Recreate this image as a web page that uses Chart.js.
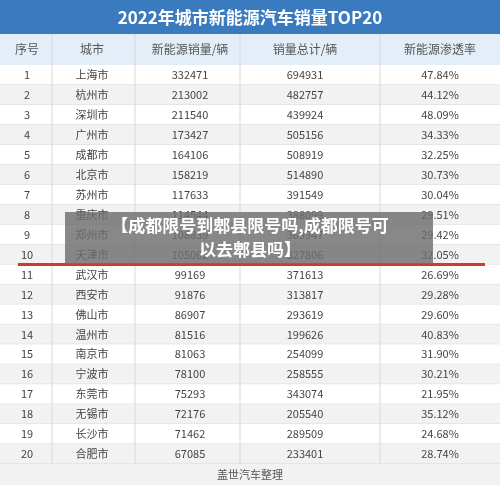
<!DOCTYPE html><html><head><meta charset="utf-8">
<script src="https://cdn.jsdelivr.net/npm/chart.js@4"></script>
<style>body{margin:0;background:#fff}#w{width:500px;height:485px}</style></head><body><div id="w"><canvas id="c"></canvas></div>
<script>
const title='2022年城市新能源汽车销量TOP20';
const headers=['序号','城市','新能源销量/辆','销量总计/辆','新能源渗透率'];
const ranks=['1','2','3','4','5','6','7','8','9','10','11','12','13','14','15','16','17','18','19','20'];
const cities=['上海市','杭州市','深圳市','广州市','成都市','北京市','苏州市','重庆市','郑州市','天津市','武汉市','西安市','佛山市','温州市','南京市','宁波市','东莞市','无锡市','长沙市','合肥市'];
const nev=[332471,213002,211540,173427,164106,158219,117633,114544,108839,105062,99169,91876,86907,81516,81063,78100,75293,72176,71462,67085];
const total=[694931,482757,439924,505156,508919,514890,391549,388099,369947,327806,371613,313817,293619,199626,254099,258555,343074,205540,289509,233401];
const rate=['47.84%','44.12%','48.09%','34.33%','32.25%','30.73%','30.04%','29.51%','29.42%','32.05%','26.69%','29.28%','29.60%','40.83%','31.90%','30.21%','21.95%','35.12%','24.68%','28.74%'];
const colX=[27,92,190,305,440];
const sepX=[52,135,240,380];
const cols=[ranks,cities,nev.map(String),total.map(String),rate];
const plug={id:'tbl',afterDatasetsDraw(ch){
 const c=ch.ctx,x=ch.scales.x,y=ch.scales.y,a=ch.chartArea;
 c.save();
 c.fillStyle='#3a7bbf';c.fillRect(0,0,500,34);
 c.fillStyle='#fff';c.font='bold 17px "Noto Sans CJK SC"';c.textAlign='center';c.textBaseline='middle';
 c.fillText(title,250,18);
 c.fillStyle='#e3eef8';c.fillRect(0,34,500,a.top-34);
 c.fillStyle='#555';c.font='12px "Noto Sans CJK SC"';
 headers.forEach((h,i)=>c.fillText(h,x.getPixelForValue(colX[i]),(34+a.top)/2));
 const rh=Math.abs(y.getPixelForValue(1)-y.getPixelForValue(0));
 ranks.forEach((r,i)=>{const py=y.getPixelForValue(i);
  c.fillStyle=i%2?'#f2f2f2':'#ffffff';c.fillRect(0,py-rh/2,500,rh);
  c.strokeStyle='#d8d8d8';c.lineWidth=1;c.beginPath();c.moveTo(0,py+rh/2);c.lineTo(500,py+rh/2);c.stroke();
  c.fillStyle='#444';c.font='11px "Noto Sans CJK SC"';
  cols.forEach((col,j)=>c.fillText(col[i],x.getPixelForValue(colX[j]),py));
 });
 c.strokeStyle='#d8d8d8';
 sepX.forEach(v=>{const px=x.getPixelForValue(v);c.beginPath();c.moveTo(px,34);c.lineTo(px,a.bottom);c.stroke();});
 const py10=y.getPixelForValue(9)+rh/2;
 c.strokeStyle='#d0392b';c.lineWidth=3;c.beginPath();c.moveTo(18,py10);c.lineTo(485,py10);c.stroke();
 c.fillStyle='rgba(110,110,110,0.82)';c.fillRect(65,212,368,52);
 c.fillStyle='#fff';c.font='bold 17px "Noto Sans CJK SC"';
 c.fillText('【成都限号到郫县限号吗,成都限号可',250,226);c.fillText('以去郫县吗】',250,250);
 c.fillStyle='#f2f2f2';c.fillRect(0,a.bottom,500,485-a.bottom);
 c.fillStyle='#555';c.font='11px "Noto Sans CJK SC"';c.fillText('盖世汽车整理',250,(a.bottom+485)/2);
 c.restore();}};
new Chart(document.getElementById('c'),{type:'bar',
 data:{labels:ranks,datasets:[{data:[],backgroundColor:'transparent'}]},
 options:{indexAxis:'y',responsive:true,maintainAspectRatio:false,animation:false,
  layout:{padding:{top:65,bottom:21,left:0,right:0}},
  plugins:{legend:{display:false},tooltip:{enabled:false}},
  scales:{x:{type:'linear',min:0,max:500,display:false},y:{type:'category',display:false}}},
 plugins:[plug]});
</script></body></html>
